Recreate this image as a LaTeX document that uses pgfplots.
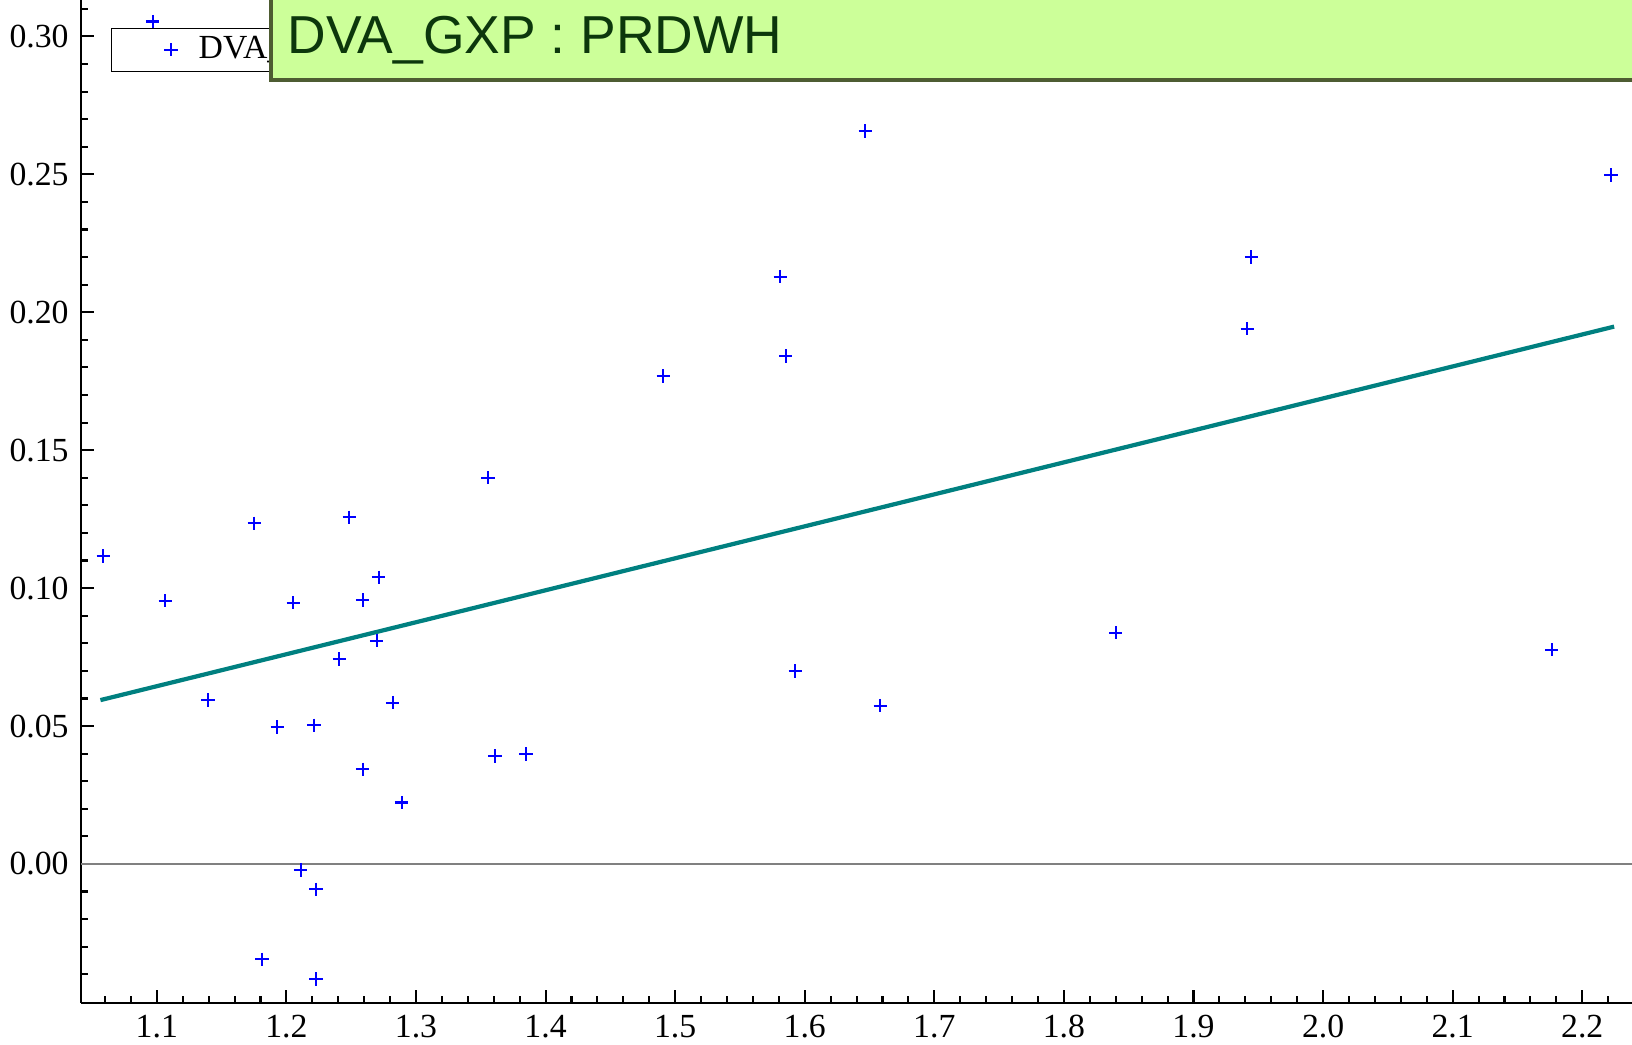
\documentclass[border=0pt]{standalone}
\usepackage{fontspec}
\setmainfont{Liberation Serif}
\newfontfamily\arialf{Liberation Sans}
\usepackage{pgfplots}
\pgfplotsset{compat=1.18}
\definecolor{ptblue}{RGB}{0,0,255}
\definecolor{regteal}{RGB}{0,128,128}
\definecolor{boxgreen}{RGB}{204,255,153}
\definecolor{boxborder}{RGB}{78,92,50}
\definecolor{boxtext}{RGB}{12,55,12}
\definecolor{zerogray}{RGB}{128,128,128}

\begin{document}
\begin{tikzpicture}
\useasboundingbox (0,0) rectangle (16.32,10.44);
\clip (0,0) rectangle (16.32,10.44);
\begin{axis}[
  at={(0.81cm,0.413cm)}, anchor=south west,
  scale only axis, width=15.51cm, height=10.027cm,
  xmin=1.0415, xmax=2.2384, ymin=-0.0503, ymax=0.3132,
  axis x line=bottom, axis y line=left,
  axis line style={-, line width=0.6pt, black},
  xtick={1.1,1.2,1.3,1.4,1.5,1.6,1.7,1.8,1.9,2.0,2.1,2.2},
  xticklabels={1.1,1.2,1.3,1.4,1.5,1.6,1.7,1.8,1.9,2.0,2.1,2.2},
  ytick={0,0.05,0.10,0.15,0.20,0.25,0.30},
  yticklabels={0.00,0.05,0.10,0.15,0.20,0.25,0.30},
  minor xtick={1.06,1.08,...,2.23},
  minor ytick={-0.04,-0.03,...,0.311},
  tick align=inside,
  major tick length=0.127cm, minor tick length=0.065cm,
  tick style={black, line width=0.6pt},
  xticklabel style={font=\fontsize{9.6}{11}\selectfont},
  yticklabel style={font=\fontsize{9.6}{11}\selectfont},
  legend style={at={(0.0193,0.9725)}, anchor=north west, draw=black,
    font=\fontsize{9.6}{11}\selectfont, inner xsep=1pt, inner ysep=1.2pt,
    nodes={inner sep=1pt}, column sep=0pt},
  clip=false,
]
\addplot[forget plot, zerogray, line width=0.5pt] coordinates {(1.0415,0) (2.2384,0)};
\addplot[forget plot, regteal, line width=1.2pt] coordinates {(1.0565,0.0594) (2.2246,0.1948)};
\addplot[only marks, mark=+, mark size=1.9pt, color=ptblue, mark options={line width=0.6pt},
  legend image code/.code={\path[draw=none] (0cm,0cm) -- (0.8cm,0cm); \draw plot coordinates {(0.56cm,0cm)};}]
coordinates {
(1.0587,0.1116) (1.1065,0.0954) (1.1394,0.0594) (1.1753,0.1235) (1.1811,-0.0346)
(1.1930,0.0497) (1.2053,0.0947) (1.2110,-0.0022) (1.2213,0.0503) (1.2228,-0.0092)
(1.2228,-0.0417) (1.2408,0.0743) (1.2485,0.1257) (1.2588,0.0343) (1.2588,0.0957)
(1.2696,0.0809) (1.2712,0.1039) (1.2820,0.0585) (1.2889,0.0223) (1.3557,0.1400)
(1.3610,0.0391) (1.3849,0.0398) (1.4908,0.1769) (1.5811,0.2129) (1.5853,0.1841)
(1.5927,0.0700) (1.6467,0.2657) (1.6584,0.0574) (1.8400,0.0838) (1.9415,0.1940)
(1.9447,0.2200) (2.1765,0.0777) (2.2223,0.2498) (1.0968,0.3054)
};
\addlegendentry{DVA\_GXP}
\end{axis}
\fill[boxgreen] (2.693,9.657) rectangle (17,11);
\draw[boxborder, line width=1.1pt] (2.71,11) -- (2.71,9.64) -- (17,9.64);
\node[anchor=base west, inner sep=0pt, text=boxtext, font=\arialf\fontsize{15.2}{18}\selectfont] at (2.87,9.907) {DVA\_GXP : PRDWH};
\end{tikzpicture}
\end{document}
